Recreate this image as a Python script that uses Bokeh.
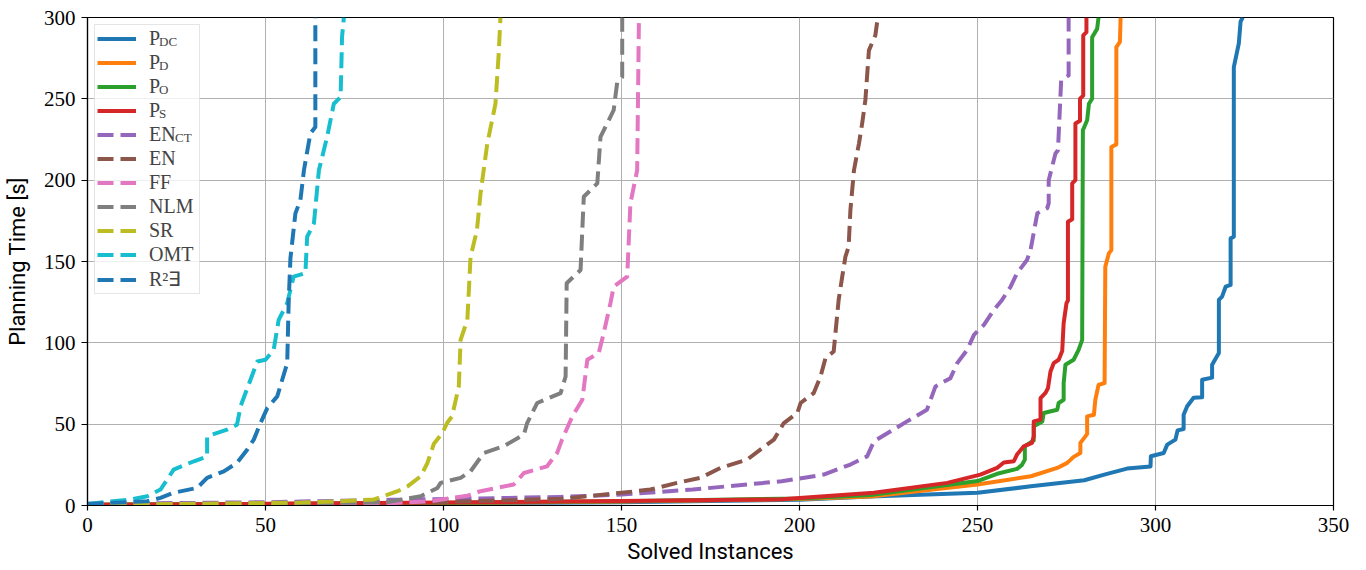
from bokeh.plotting import figure
from bokeh.models import Range1d, FixedTicker, Legend, LegendItem
from bokeh.core.properties import value
from bokeh.embed import file_html
from bokeh.resources import INLINE

# ---------------- data ----------------
solved_ticks = [0, 50, 100, 150, 200, 250, 300, 350]
time_ticks = [0, 50, 100, 150, 200, 250, 300]

pdc_x = [0, 50, 100, 150, 200, 220, 250, 265, 280, 286.4, 292, 298.6, 298.7, 302.3, 303.3, 305.6, 306.2,
         307.9, 307.9, 308.9, 310.7, 313.1, 313.1, 315.9, 315.9, 317.8, 317.8, 318.7, 319.7, 321.1,
         321.1, 322.0, 322.0, 323.4, 323.9, 324.5]
pdc_y = [0.3, 0.8, 1.3, 2.0, 3.5, 5.5, 7.8, 11.8, 15.5, 19.4, 22.7, 24.0, 30.3, 32.3, 37.4, 40.5, 46.2,
         47.0, 55.8, 61.0, 66.2, 66.5, 77.3, 78.6, 86.5, 93.7, 126.4, 128.4, 134.5, 135.6,
         164.2, 165.2, 269.5, 284.0, 297.5, 300]

pd_x = [0, 50, 100, 150, 200, 220, 250, 265, 272.4, 275.2, 277.0, 278.9, 278.9, 280.3, 280.8, 280.8,
        282.7, 283.1, 284.0, 285.7, 285.9, 286.9, 287.6, 287.6, 289.0, 289.0, 290.0, 290.2]
pd_y = [0.4, 0.9, 1.5, 2.4, 4.0, 5.5, 12.9, 18.0, 23.1, 26.2, 29.9, 32.3, 38.5, 42.5, 44.0, 54.8,
        55.8, 65.0, 74.2, 75.3, 146.8, 155.0, 157.0, 220.4, 222.0, 281.8, 285.0, 300]

po_x = [0, 50, 100, 150, 200, 220, 250, 255.5, 261.1, 262.5, 263.3, 263.3, 265.8, 265.8, 268.2, 268.6,
        272.4, 272.8, 274.2, 274.2, 274.7, 277.0, 278.4, 279.4, 279.6, 280.8, 281.3, 282.2, 282.2,
        283.6, 284.0]
po_y = [0.4, 0.9, 1.6, 2.6, 4.3, 6.5, 15.0, 19.5, 22.5, 25.0, 28.2, 36.4, 40.0, 48.7, 51.7, 56.9,
        58.9, 63.0, 65.0, 75.3, 86.5, 89.6, 95.7, 101.8, 230.7, 236.8, 247.0, 250.1, 287.9,
        293.0, 300]

ps_x = [0, 50, 100, 150, 195, 220.9, 241.5, 250.8, 255.5, 257.4, 260.2, 261.1, 263.0, 265.3, 265.8,
        265.8, 267.7, 267.7, 269.1, 269.8, 270.5, 271.4, 272.8, 273.8, 274.2, 275.0, 275.4, 275.4,
        276.6, 276.6, 277.5, 277.5, 278.8, 278.8, 279.7, 279.7, 280.6, 280.6]
ps_y = [0.5, 1.0, 1.8, 2.8, 3.8, 7.8, 13.9, 19.0, 23.1, 26.4, 27.2, 31.3, 36.4, 38.5, 42.5,
        51.7, 52.8, 66.0, 69.2, 72.2, 82.4, 87.5, 89.6, 95.0, 112.1, 124.4, 126.0, 174.4,
        176.0, 198.0, 200.0, 234.8, 236.5, 250.1, 252.0, 289.0, 291.0, 300]

enct_x = [0, 50, 85, 110, 133, 150, 170, 195, 206.8, 214.3, 219.0, 220.9, 225.6, 230.2, 235.8, 238.2,
          242.4, 244.3, 247.1, 249.0, 251.8, 254.6, 256.9, 259.3, 261.1, 263.9, 264.9, 266.8, 269.6,
          270.0, 270.0, 271.9, 272.6, 273.5, 275.6, 275.6]
enct_y = [1.0, 2.0, 3.5, 4.3, 5.3, 6.7, 9.8, 14.9, 19.0, 25.2, 30.2, 39.4, 45.6, 51.7, 58.9, 73.2,
          78.3, 87.5, 95.7, 104.9, 111.0, 120.2, 126.4, 134.5, 142.8, 150.9, 157.1, 179.6, 182.8,
          185.7, 200.0, 216.4, 218.4, 261.3, 264.4, 300]

en_x = [0, 50, 100, 133, 150, 158.1, 165.6, 172.2, 177.8, 185.3, 189.0, 192.8, 195.6, 199.4, 200.3,
        204.0, 205.9, 207.3, 209.6, 211.0, 212.0, 212.9, 213.8, 214.3, 215.3, 216.7, 217.6, 218.5,
        219.5, 221.3, 221.8]
en_y = [0.5, 1.2, 2.2, 4.1, 7.8, 9.8, 13.9, 17.0, 23.1, 28.2, 34.4, 40.5, 50.7, 56.9, 63.0,
        69.1, 79.3, 90.6, 94.7, 126.4, 140.7, 153.0, 159.1, 181.6, 206.1, 222.5, 234.8, 249.1,
        279.8, 289.0, 297.0]

ff_x = [0, 50, 83, 96.3, 106.7, 110.4, 119.7, 122.6, 129.1, 131.9, 133.3, 136.2, 139.0, 140.4, 143.6,
        145.0, 146.9, 147.8, 151.6, 152.5, 154.4, 154.9]
ff_y = [0.5, 0.8, 1.2, 2.6, 6.0, 8.8, 12.9, 20.0, 24.1, 32.3, 40.5, 54.8, 65.0, 89.6, 93.7,
        106.0, 124.4, 134.5, 140.7, 185.7, 206.1, 300]

nlm_x = [0, 50, 84, 93.6, 98.3, 99.2, 104.8, 107.6, 111.3, 116.9, 122.6, 123.5, 126.3, 132.9, 134.3,
         134.6, 138.5, 139.4, 143.2, 144.1, 147.8, 148.8, 150.2, 150.2]
nlm_y = [0.5, 1.0, 2.0, 5.7, 10.8, 13.9, 17.0, 21.0, 32.3, 36.4, 43.6, 50.7, 63.0, 69.1, 79.3,
         136.6, 144.8, 189.8, 198.0, 226.6, 243.0, 260.3, 263.4, 300]

sr_x = [0, 30, 60, 75, 80.5, 87.1, 89.9, 93.6, 95.5, 97.3, 99.7, 101.0, 102.4, 104.3, 104.8, 106.7,
        107.6, 109.4, 110.4, 112.3, 114.6, 115.5, 116.0]
sr_y = [0.5, 1.0, 1.8, 3.0, 3.7, 8.8, 11.8, 18.0, 26.2, 38.0, 44.6, 50.7, 54.8, 73.2, 101.8, 114.1,
        152.9, 169.3, 191.8, 222.5, 247.0, 277.7, 300]

omt_x = [0, 12.1, 16.8, 20.5, 22.4, 24.2, 29.9, 33.6, 33.6, 39.2, 42.0, 43.0, 47.7, 50.0, 52.3, 53.7,
         56.1, 57.9, 61.2, 61.7, 63.6, 65.0, 67.3, 69.2, 71.1, 71.5, 72.0]
omt_y = [1.0, 3.7, 5.7, 9.8, 16.0, 22.1, 27.2, 30.2, 42.5, 46.6, 49.7, 61.0, 88.5, 89.6, 95.7, 114.1,
         124.4, 140.7, 142.8, 165.2, 173.4, 206.1, 226.6, 247.0, 251.1, 287.9, 300]

r2e_x = [0, 16.8, 20.5, 24.2, 30.8, 33.6, 38.3, 42.0, 44.9, 46.7, 48.6, 50.5, 53.3, 54.7, 56.1, 56.5,
         57.0, 58.4, 59.8, 60.8, 62.6, 64.0, 64.0]
r2e_y = [1.0, 2.6, 4.7, 7.8, 10.8, 17.0, 21.0, 26.2, 34.4, 40.5, 50.7, 59.9, 67.1, 77.3, 87.5, 124.4,
         152.0, 179.6, 187.7, 206.1, 228.7, 232.7, 300]

main_labels = ["P", "P", "P", "P", "EN", "EN", "FF", "NLM", "SR", "OMT", "R\u00b2\u2203"]
sub_labels = ["DC", "D", "O", "S", "CT"]
colors = ["#1f77b4", "#ff7f0e", "#2ca02c", "#d62728", "#9467bd", "#8c564b",
          "#e377c2", "#7f7f7f", "#bcbd22", "#17becf", "#1f77b4"]
dashed = [False, False, False, False, True, True, True, True, True, True, True]
xs = [pdc_x, pd_x, po_x, ps_x, enct_x, en_x, ff_x, nlm_x, sr_x, omt_x, r2e_x]
ys = [pdc_y, pd_y, po_y, ps_y, enct_y, en_y, ff_y, nlm_y, sr_y, omt_y, r2e_y]

# ---------------- figure ----------------
p = figure(width=1350, height=566, output_backend="svg", toolbar_location=None,
           x_range=Range1d(0, 350), y_range=Range1d(0, 300),
           min_border_left=87, min_border_right=17, min_border_top=17, min_border_bottom=60)
p.background_fill_color = "white"
p.border_fill_color = "white"
p.outline_line_color = "black"
p.outline_line_width = 1.2

p.xaxis.ticker = FixedTicker(ticks=solved_ticks)
p.yaxis.ticker = FixedTicker(ticks=time_ticks)
p.grid.grid_line_color = "#b0b0b0"
p.grid.grid_line_width = 1

for ax in (p.xaxis[0], p.yaxis[0]):
    ax.axis_line_color = "black"
    ax.axis_line_width = 1.2
    ax.major_tick_line_color = "black"
    ax.major_tick_line_width = 1.2
    ax.major_tick_in = 0
    ax.minor_tick_line_color = None
    ax.major_label_text_font = "Liberation Serif"
    ax.major_label_text_font_size = "21px"
    ax.major_label_text_color = "black"
    ax.major_label_text_line_height = 1.0
    ax.axis_label_text_font = "Roboto"
    ax.axis_label_text_font_size = "22px"
    ax.axis_label_text_font_style = "normal"
    ax.axis_label_text_color = "black"
    ax.axis_label_text_line_height = 1.0

p.xaxis.axis_label = "Solved Instances"
p.yaxis.axis_label = "Planning Time [s]"
p.xaxis.major_tick_out = 5
p.xaxis.major_label_standoff = 7
p.xaxis.axis_label_standoff = 4
p.yaxis.major_tick_out = 6
p.yaxis.major_label_standoff = 6
p.yaxis.axis_label_standoff = 11

renderers = []
for x, y, c, d in zip(xs, ys, colors, dashed):
    r = p.line(x, y, line_color=c, line_width=4,
               line_dash="16 7" if d else "solid", line_join="round")
    renderers.append(r)

dummy = p.line(x=[0, 1], y=[-10, -10], line_alpha=0)

common = dict(location="top_left", margin=7, spacing=1,
              glyph_width=39, glyph_height=23, label_height=23)

legend = Legend(items=[LegendItem(label=value(l), renderers=[r]) for l, r in zip(main_labels, renderers)],
                padding=2, label_standoff=13, label_width=48,
                label_text_font="Liberation Serif", label_text_font_size="20px",
                border_line_color="#cccccc", border_line_width=1,
                background_fill_color="white", background_fill_alpha=0.8, **common)
p.add_layout(legend)

# subscripts for the P entries and for EN_CT (drawn as transparent legends over the first one)
sub_p = Legend(items=[LegendItem(label=value(s), renderers=[dummy]) for s in sub_labels[:4]],
               padding=6, label_standoff=20, label_text_font="Liberation Serif",
               label_text_font_size="13px", label_text_baseline="top",
               border_line_alpha=0, background_fill_alpha=0, **common)
p.add_layout(sub_p)
sub_en = Legend(items=[LegendItem(label=value(" "), renderers=[dummy]) for _ in range(4)]
                + [LegendItem(label=value(sub_labels[4]), renderers=[dummy])],
                padding=6, label_standoff=36, label_text_font="Liberation Serif",
                label_text_font_size="13px", label_text_baseline="top",
                border_line_alpha=0, background_fill_alpha=0, **common)
p.add_layout(sub_en)

open("out.html", "w").write(file_html(p, INLINE))
